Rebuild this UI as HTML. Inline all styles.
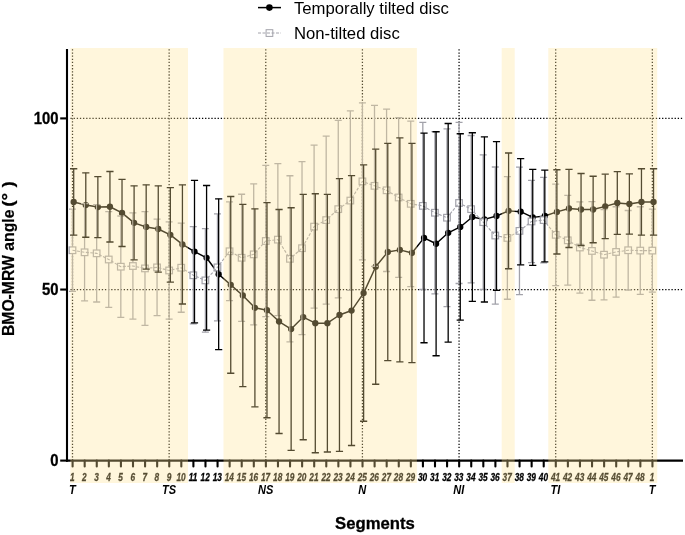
<!DOCTYPE html>
<html><head><meta charset="utf-8"><title>BMO-MRW angle chart</title>
<style>html,body{margin:0;padding:0;background:#fff}body{width:685px;height:535px;position:relative;overflow:hidden;font-family:"Liberation Sans",sans-serif}</style></head>
<body>
<svg width="685" height="535" viewBox="0 0 685 535" style="position:absolute;left:0;top:0;will-change:transform;font-family:'Liberation Sans',sans-serif">
<rect width="685" height="535" fill="#fff"/>
<g stroke="#000" stroke-width="1.3" stroke-dasharray="1.3 1.83" fill="none">
<line x1="70.5" y1="289.55" x2="683" y2="289.55"/>
<line x1="70.5" y1="118.40" x2="683" y2="118.40"/>
<line x1="72.50" y1="49.3" x2="72.50" y2="460.60" stroke-width="1.25"/>
<line x1="169.14" y1="49.3" x2="169.14" y2="460.60" stroke-width="1.25"/>
<line x1="265.78" y1="49.3" x2="265.78" y2="460.60" stroke-width="1.25"/>
<line x1="362.42" y1="49.3" x2="362.42" y2="460.60" stroke-width="1.25"/>
<line x1="459.06" y1="49.3" x2="459.06" y2="460.60" stroke-width="1.25"/>
<line x1="555.70" y1="49.3" x2="555.70" y2="460.60" stroke-width="1.25"/>
<line x1="652.34" y1="49.3" x2="652.34" y2="460.60" stroke-width="1.25"/>
</g>
<polyline points="73.70,201.94 85.78,205.03 97.86,207.08 109.94,206.74 122.02,212.91 134.10,222.84 146.18,226.95 158.26,229.01 170.34,234.83 182.42,244.43 194.50,251.62 206.58,257.79 218.66,274.23 230.74,284.85 242.82,295.47 254.90,307.81 266.98,310.21 279.06,321.51 291.14,329.05 303.22,317.06 315.30,323.22 327.38,323.22 339.46,315.00 351.54,310.55 363.62,293.08 375.70,266.70 387.78,251.96 399.86,249.91 411.94,252.99 424.02,237.92 436.10,243.74 448.18,232.78 460.26,226.95 472.34,217.02 484.42,219.42 496.50,215.99 508.58,210.85 520.66,211.71 532.74,217.36 544.82,215.99 556.90,211.88 568.98,208.45 581.06,209.48 593.14,209.48 605.22,206.40 617.30,202.97 629.38,204.00 641.46,201.94 653.54,201.94" stroke="#000" stroke-width="1.45" fill="none" stroke-linejoin="round"/>
<g fill="#000">
<circle cx="73.70" cy="201.94" r="3.15"/>
<circle cx="85.78" cy="205.03" r="3.15"/>
<circle cx="97.86" cy="207.08" r="3.15"/>
<circle cx="109.94" cy="206.74" r="3.15"/>
<circle cx="122.02" cy="212.91" r="3.15"/>
<circle cx="134.10" cy="222.84" r="3.15"/>
<circle cx="146.18" cy="226.95" r="3.15"/>
<circle cx="158.26" cy="229.01" r="3.15"/>
<circle cx="170.34" cy="234.83" r="3.15"/>
<circle cx="182.42" cy="244.43" r="3.15"/>
<circle cx="194.50" cy="251.62" r="3.15"/>
<circle cx="206.58" cy="257.79" r="3.15"/>
<circle cx="218.66" cy="274.23" r="3.15"/>
<circle cx="230.74" cy="284.85" r="3.15"/>
<circle cx="242.82" cy="295.47" r="3.15"/>
<circle cx="254.90" cy="307.81" r="3.15"/>
<circle cx="266.98" cy="310.21" r="3.15"/>
<circle cx="279.06" cy="321.51" r="3.15"/>
<circle cx="291.14" cy="329.05" r="3.15"/>
<circle cx="303.22" cy="317.06" r="3.15"/>
<circle cx="315.30" cy="323.22" r="3.15"/>
<circle cx="327.38" cy="323.22" r="3.15"/>
<circle cx="339.46" cy="315.00" r="3.15"/>
<circle cx="351.54" cy="310.55" r="3.15"/>
<circle cx="363.62" cy="293.08" r="3.15"/>
<circle cx="375.70" cy="266.70" r="3.15"/>
<circle cx="387.78" cy="251.96" r="3.15"/>
<circle cx="399.86" cy="249.91" r="3.15"/>
<circle cx="411.94" cy="252.99" r="3.15"/>
<circle cx="424.02" cy="237.92" r="3.15"/>
<circle cx="436.10" cy="243.74" r="3.15"/>
<circle cx="448.18" cy="232.78" r="3.15"/>
<circle cx="460.26" cy="226.95" r="3.15"/>
<circle cx="472.34" cy="217.02" r="3.15"/>
<circle cx="484.42" cy="219.42" r="3.15"/>
<circle cx="496.50" cy="215.99" r="3.15"/>
<circle cx="508.58" cy="210.85" r="3.15"/>
<circle cx="520.66" cy="211.71" r="3.15"/>
<circle cx="532.74" cy="217.36" r="3.15"/>
<circle cx="544.82" cy="215.99" r="3.15"/>
<circle cx="556.90" cy="211.88" r="3.15"/>
<circle cx="568.98" cy="208.45" r="3.15"/>
<circle cx="581.06" cy="209.48" r="3.15"/>
<circle cx="593.14" cy="209.48" r="3.15"/>
<circle cx="605.22" cy="206.40" r="3.15"/>
<circle cx="617.30" cy="202.97" r="3.15"/>
<circle cx="629.38" cy="204.00" r="3.15"/>
<circle cx="641.46" cy="201.94" r="3.15"/>
<circle cx="653.54" cy="201.94" r="3.15"/>
</g>
<g stroke="#a2a2aa" stroke-width="1.3" fill="none">
<path d="M72.50 209.14V291.36M69.00 209.14h7.0M69.00 291.36h7.0"/>
<path d="M84.58 203.66V300.96M81.08 203.66h7.0M81.08 300.96h7.0"/>
<path d="M96.66 204.69V301.98M93.16 204.69h7.0M93.16 301.98h7.0"/>
<path d="M108.74 211.54V307.47M105.24 211.54h7.0M105.24 307.47h7.0"/>
<path d="M120.82 215.99V317.40M117.32 215.99h7.0M117.32 317.40h7.0"/>
<path d="M132.90 212.91V319.11M129.40 212.91h7.0M129.40 319.11h7.0"/>
<path d="M144.98 211.54V325.28M141.48 211.54h7.0M141.48 325.28h7.0"/>
<path d="M157.06 219.07V315.69M153.56 219.07h7.0M153.56 315.69h7.0"/>
<path d="M169.14 221.82V319.11M165.64 221.82h7.0M165.64 319.11h7.0"/>
<path d="M181.22 223.19V312.26M177.72 223.19h7.0M177.72 312.26h7.0"/>
<path d="M193.30 226.61V323.91M189.80 226.61h7.0M189.80 323.91h7.0"/>
<path d="M205.38 228.67V332.13M201.88 228.67h7.0M201.88 332.13h7.0"/>
<path d="M217.46 213.94V320.83M213.96 213.94h7.0M213.96 320.83h7.0"/>
<path d="M229.54 201.94V300.61M226.04 201.94h7.0M226.04 300.61h7.0"/>
<path d="M241.62 194.24V321.34M238.12 194.24h7.0M238.12 321.34h7.0"/>
<path d="M253.70 183.79V324.94M250.20 183.79h7.0M250.20 324.94h7.0"/>
<path d="M265.78 165.46V316.54M262.28 165.46h7.0M262.28 316.54h7.0"/>
<path d="M277.86 163.57V315.69M274.36 163.57h7.0M274.36 315.69h7.0"/>
<path d="M289.94 175.74V341.90M286.44 175.74h7.0M286.44 341.90h7.0"/>
<path d="M302.02 161.69V334.70M298.52 161.69h7.0M298.52 334.70h7.0"/>
<path d="M314.10 145.07V308.15M310.60 145.07h7.0M310.60 308.15h7.0"/>
<path d="M326.18 136.17V304.04M322.68 136.17h7.0M322.68 304.04h7.0"/>
<path d="M338.26 120.41V297.87M334.76 120.41h7.0M334.76 297.87h7.0"/>
<path d="M350.34 110.81V290.34M346.84 110.81h7.0M346.84 290.34h7.0"/>
<path d="M362.42 102.93V259.84M358.92 102.93h7.0M358.92 259.84h7.0"/>
<path d="M374.50 105.33V266.35M371.00 105.33h7.0M371.00 266.35h7.0"/>
<path d="M386.58 109.10V271.49M383.08 109.10h7.0M383.08 271.49h7.0"/>
<path d="M398.66 117.66V277.32M395.16 117.66h7.0M395.16 277.32h7.0"/>
<path d="M410.74 121.09V286.57M407.24 121.09h7.0M407.24 286.57h7.0"/>
<path d="M422.82 122.29V289.48M419.32 122.29h7.0M419.32 289.48h7.0"/>
<path d="M434.90 131.54V293.93M431.40 131.54h7.0M431.40 293.93h7.0"/>
<path d="M446.98 128.80V306.61M443.48 128.80h7.0M443.48 306.61h7.0"/>
<path d="M459.06 122.46V283.48M455.56 122.46h7.0M455.56 283.48h7.0"/>
<path d="M471.14 135.48V282.80M467.64 135.48h7.0M467.64 282.80h7.0"/>
<path d="M483.22 154.84V289.48M479.72 154.84h7.0M479.72 289.48h7.0"/>
<path d="M495.30 167.00V304.04M491.80 167.00h7.0M491.80 304.04h7.0"/>
<path d="M507.38 176.59V299.24M503.88 176.59h7.0M503.88 299.24h7.0"/>
<path d="M519.46 167.17V294.62M515.96 167.17h7.0M515.96 294.62h7.0"/>
<path d="M531.54 180.36V262.58M528.04 180.36h7.0M528.04 262.58h7.0"/>
<path d="M543.62 177.28V262.93M540.12 177.28h7.0M540.12 262.93h7.0"/>
<path d="M555.70 184.13V285.54M552.20 184.13h7.0M552.20 285.54h7.0"/>
<path d="M567.78 195.44V285.20M564.28 195.44h7.0M564.28 285.20h7.0"/>
<path d="M579.86 201.94V293.08M576.36 201.94h7.0M576.36 293.08h7.0"/>
<path d="M591.94 201.60V300.27M588.44 201.60h7.0M588.44 300.27h7.0"/>
<path d="M604.02 209.48V299.93M600.52 209.48h7.0M600.52 299.93h7.0"/>
<path d="M616.10 206.74V297.19M612.60 206.74h7.0M612.60 297.19h7.0"/>
<path d="M628.18 210.51V289.99M624.68 210.51h7.0M624.68 289.99h7.0"/>
<path d="M640.26 206.74V294.45M636.76 206.74h7.0M636.76 294.45h7.0"/>
<path d="M652.34 209.14V292.05M648.84 209.14h7.0M648.84 292.05h7.0"/>
</g>
<g stroke="#a2a2aa" stroke-width="1.2" fill="#fff">
<rect x="69.20" y="246.95" width="6.6" height="6.6"/>
<rect x="81.28" y="249.01" width="6.6" height="6.6"/>
<rect x="93.36" y="250.03" width="6.6" height="6.6"/>
<rect x="105.44" y="256.20" width="6.6" height="6.6"/>
<rect x="117.52" y="263.40" width="6.6" height="6.6"/>
<rect x="129.60" y="262.71" width="6.6" height="6.6"/>
<rect x="141.68" y="265.11" width="6.6" height="6.6"/>
<rect x="153.76" y="264.08" width="6.6" height="6.6"/>
<rect x="165.84" y="267.16" width="6.6" height="6.6"/>
<rect x="177.92" y="264.42" width="6.6" height="6.6"/>
<rect x="190.00" y="271.96" width="6.6" height="6.6"/>
<rect x="202.08" y="277.10" width="6.6" height="6.6"/>
<rect x="214.16" y="264.08" width="6.6" height="6.6"/>
<rect x="226.24" y="247.98" width="6.6" height="6.6"/>
<rect x="238.32" y="254.49" width="6.6" height="6.6"/>
<rect x="250.40" y="251.06" width="6.6" height="6.6"/>
<rect x="262.48" y="237.70" width="6.6" height="6.6"/>
<rect x="274.56" y="236.33" width="6.6" height="6.6"/>
<rect x="286.64" y="255.52" width="6.6" height="6.6"/>
<rect x="298.72" y="244.90" width="6.6" height="6.6"/>
<rect x="310.80" y="223.31" width="6.6" height="6.6"/>
<rect x="322.88" y="216.80" width="6.6" height="6.6"/>
<rect x="334.96" y="205.84" width="6.6" height="6.6"/>
<rect x="347.04" y="197.27" width="6.6" height="6.6"/>
<rect x="359.12" y="178.09" width="6.6" height="6.6"/>
<rect x="371.20" y="182.54" width="6.6" height="6.6"/>
<rect x="383.28" y="187.00" width="6.6" height="6.6"/>
<rect x="395.36" y="194.19" width="6.6" height="6.6"/>
<rect x="407.44" y="200.53" width="6.6" height="6.6"/>
<rect x="419.52" y="202.58" width="6.6" height="6.6"/>
<rect x="431.60" y="209.44" width="6.6" height="6.6"/>
<rect x="443.68" y="214.40" width="6.6" height="6.6"/>
<rect x="455.76" y="199.67" width="6.6" height="6.6"/>
<rect x="467.84" y="205.84" width="6.6" height="6.6"/>
<rect x="479.92" y="218.86" width="6.6" height="6.6"/>
<rect x="492.00" y="232.22" width="6.6" height="6.6"/>
<rect x="504.08" y="234.62" width="6.6" height="6.6"/>
<rect x="516.16" y="227.59" width="6.6" height="6.6"/>
<rect x="528.24" y="218.17" width="6.6" height="6.6"/>
<rect x="540.32" y="216.80" width="6.6" height="6.6"/>
<rect x="552.40" y="231.53" width="6.6" height="6.6"/>
<rect x="564.48" y="237.02" width="6.6" height="6.6"/>
<rect x="576.56" y="244.21" width="6.6" height="6.6"/>
<rect x="588.64" y="247.64" width="6.6" height="6.6"/>
<rect x="600.72" y="251.40" width="6.6" height="6.6"/>
<rect x="612.80" y="248.66" width="6.6" height="6.6"/>
<rect x="624.88" y="246.95" width="6.6" height="6.6"/>
<rect x="636.96" y="247.29" width="6.6" height="6.6"/>
<rect x="649.04" y="247.29" width="6.6" height="6.6"/>
</g>
<polyline points="72.50,250.25 84.58,252.31 96.66,253.33 108.74,259.50 120.82,266.70 132.90,266.01 144.98,268.41 157.06,267.38 169.14,270.46 181.22,267.72 193.30,275.26 205.38,280.40 217.46,267.38 229.54,251.28 241.62,257.79 253.70,254.36 265.78,241.00 277.86,239.63 289.94,258.82 302.02,248.20 314.10,226.61 326.18,220.10 338.26,209.14 350.34,200.57 362.42,181.39 374.50,185.84 386.58,190.30 398.66,197.49 410.74,203.83 422.82,205.88 434.90,212.74 446.98,217.70 459.06,202.97 471.14,209.14 483.22,222.16 495.30,235.52 507.38,237.92 519.46,230.89 531.54,221.47 543.62,220.10 555.70,234.83 567.78,240.32 579.86,247.51 591.94,250.94 604.02,254.70 616.10,251.96 628.18,250.25 640.26,250.59 652.34,250.59" stroke="#a2a2aa" stroke-width="1.1" stroke-dasharray="3 1.5" fill="none"/>
<g stroke="#000" fill="none">
<path stroke-width="1.3" d="M73.70 168.71V235.18"/><path stroke-width="1.35" d="M70.10 168.71h7.2M70.10 235.18h7.2"/>
<path stroke-width="1.3" d="M85.78 172.82V237.23"/><path stroke-width="1.35" d="M82.18 172.82h7.2M82.18 237.23h7.2"/>
<path stroke-width="1.3" d="M97.86 176.59V237.57"/><path stroke-width="1.35" d="M94.26 176.59h7.2M94.26 237.57h7.2"/>
<path stroke-width="1.3" d="M109.94 171.45V242.03"/><path stroke-width="1.35" d="M106.34 171.45h7.2M106.34 242.03h7.2"/>
<path stroke-width="1.3" d="M122.02 179.33V246.48"/><path stroke-width="1.35" d="M118.42 179.33h7.2M118.42 246.48h7.2"/>
<path stroke-width="1.3" d="M134.10 185.84V259.84"/><path stroke-width="1.35" d="M130.50 185.84h7.2M130.50 259.84h7.2"/>
<path stroke-width="1.3" d="M146.18 184.81V269.09"/><path stroke-width="1.35" d="M142.58 184.81h7.2M142.58 269.09h7.2"/>
<path stroke-width="1.3" d="M158.26 185.84V272.18"/><path stroke-width="1.35" d="M154.66 185.84h7.2M154.66 272.18h7.2"/>
<path stroke-width="1.3" d="M170.34 187.56V282.11"/><path stroke-width="1.35" d="M166.74 187.56h7.2M166.74 282.11h7.2"/>
<path stroke-width="1.3" d="M182.42 184.81V304.04"/><path stroke-width="1.35" d="M178.82 184.81h7.2M178.82 304.04h7.2"/>
<path stroke-width="1.3" d="M194.50 180.36V322.88"/><path stroke-width="1.35" d="M190.90 180.36h7.2M190.90 322.88h7.2"/>
<path stroke-width="1.3" d="M206.58 185.50V330.08"/><path stroke-width="1.35" d="M202.98 185.50h7.2M202.98 330.08h7.2"/>
<path stroke-width="1.3" d="M218.66 198.86V349.61"/><path stroke-width="1.35" d="M215.06 198.86h7.2M215.06 349.61h7.2"/>
<path stroke-width="1.3" d="M230.74 196.46V373.24"/><path stroke-width="1.35" d="M227.14 196.46h7.2M227.14 373.24h7.2"/>
<path stroke-width="1.3" d="M242.82 204.34V386.61"/><path stroke-width="1.35" d="M239.22 204.34h7.2M239.22 386.61h7.2"/>
<path stroke-width="1.3" d="M254.90 208.80V406.82"/><path stroke-width="1.35" d="M251.30 208.80h7.2M251.30 406.82h7.2"/>
<path stroke-width="1.3" d="M266.98 202.63V417.78"/><path stroke-width="1.35" d="M263.38 202.63h7.2M263.38 417.78h7.2"/>
<path stroke-width="1.3" d="M279.06 209.48V433.54"/><path stroke-width="1.35" d="M275.46 209.48h7.2M275.46 433.54h7.2"/>
<path stroke-width="1.3" d="M291.14 207.77V450.33"/><path stroke-width="1.35" d="M287.54 207.77h7.2M287.54 450.33h7.2"/>
<path stroke-width="1.3" d="M303.22 194.41V439.71"/><path stroke-width="1.35" d="M299.62 194.41h7.2M299.62 439.71h7.2"/>
<path stroke-width="1.3" d="M315.30 193.72V452.73"/><path stroke-width="1.35" d="M311.70 193.72h7.2M311.70 452.73h7.2"/>
<path stroke-width="1.3" d="M327.38 194.41V452.04"/><path stroke-width="1.35" d="M323.78 194.41h7.2M323.78 452.04h7.2"/>
<path stroke-width="1.3" d="M339.46 178.65V451.36"/><path stroke-width="1.35" d="M335.86 178.65h7.2M335.86 451.36h7.2"/>
<path stroke-width="1.3" d="M351.54 175.56V445.53"/><path stroke-width="1.35" d="M347.94 175.56h7.2M347.94 445.53h7.2"/>
<path stroke-width="1.3" d="M363.62 164.94V421.21"/><path stroke-width="1.35" d="M360.02 164.94h7.2M360.02 421.21h7.2"/>
<path stroke-width="1.3" d="M375.70 149.18V384.21"/><path stroke-width="1.35" d="M372.10 149.18h7.2M372.10 384.21h7.2"/>
<path stroke-width="1.3" d="M387.78 143.36V360.57"/><path stroke-width="1.35" d="M384.18 143.36h7.2M384.18 360.57h7.2"/>
<path stroke-width="1.3" d="M399.86 137.88V361.94"/><path stroke-width="1.35" d="M396.26 137.88h7.2M396.26 361.94h7.2"/>
<path stroke-width="1.3" d="M411.94 143.36V362.62"/><path stroke-width="1.35" d="M408.34 143.36h7.2M408.34 362.62h7.2"/>
<path stroke-width="1.3" d="M424.02 133.08V342.75"/><path stroke-width="1.35" d="M420.42 133.08h7.2M420.42 342.75h7.2"/>
<path stroke-width="1.3" d="M436.10 131.71V355.77"/><path stroke-width="1.35" d="M432.50 131.71h7.2M432.50 355.77h7.2"/>
<path stroke-width="1.3" d="M448.18 123.49V342.07"/><path stroke-width="1.35" d="M444.58 123.49h7.2M444.58 342.07h7.2"/>
<path stroke-width="1.3" d="M460.26 133.77V320.14"/><path stroke-width="1.35" d="M456.66 133.77h7.2M456.66 320.14h7.2"/>
<path stroke-width="1.3" d="M472.34 132.74V301.30"/><path stroke-width="1.35" d="M468.74 132.74h7.2M468.74 301.30h7.2"/>
<path stroke-width="1.3" d="M484.42 136.85V301.98"/><path stroke-width="1.35" d="M480.82 136.85h7.2M480.82 301.98h7.2"/>
<path stroke-width="1.3" d="M496.50 141.65V290.34"/><path stroke-width="1.35" d="M492.90 141.65h7.2M492.90 290.34h7.2"/>
<path stroke-width="1.3" d="M508.58 152.95V268.75"/><path stroke-width="1.35" d="M504.98 152.95h7.2M504.98 268.75h7.2"/>
<path stroke-width="1.3" d="M520.66 158.61V264.81"/><path stroke-width="1.35" d="M517.06 158.61h7.2M517.06 264.81h7.2"/>
<path stroke-width="1.3" d="M532.74 169.40V265.33"/><path stroke-width="1.35" d="M529.14 169.40h7.2M529.14 265.33h7.2"/>
<path stroke-width="1.3" d="M544.82 170.08V261.90"/><path stroke-width="1.35" d="M541.22 170.08h7.2M541.22 261.90h7.2"/>
<path stroke-width="1.3" d="M556.90 169.74V254.02"/><path stroke-width="1.35" d="M553.30 169.74h7.2M553.30 254.02h7.2"/>
<path stroke-width="1.3" d="M568.98 169.40V247.51"/><path stroke-width="1.35" d="M565.38 169.40h7.2M565.38 247.51h7.2"/>
<path stroke-width="1.3" d="M581.06 173.51V245.45"/><path stroke-width="1.35" d="M577.46 173.51h7.2M577.46 245.45h7.2"/>
<path stroke-width="1.3" d="M593.14 176.25V242.71"/><path stroke-width="1.35" d="M589.54 176.25h7.2M589.54 242.71h7.2"/>
<path stroke-width="1.3" d="M605.22 174.19V238.60"/><path stroke-width="1.35" d="M601.62 174.19h7.2M601.62 238.60h7.2"/>
<path stroke-width="1.3" d="M617.30 171.62V234.32"/><path stroke-width="1.35" d="M613.70 171.62h7.2M613.70 234.32h7.2"/>
<path stroke-width="1.3" d="M629.38 173.85V234.15"/><path stroke-width="1.35" d="M625.78 173.85h7.2M625.78 234.15h7.2"/>
<path stroke-width="1.3" d="M641.46 168.71V235.18"/><path stroke-width="1.35" d="M637.86 168.71h7.2M637.86 235.18h7.2"/>
<path stroke-width="1.3" d="M653.54 168.71V235.18"/><path stroke-width="1.35" d="M649.94 168.71h7.2M649.94 235.18h7.2"/>
</g>
<g stroke="#000" stroke-width="2.1" fill="none">
<line x1="67" y1="49" x2="67" y2="461.65"/>
<line x1="66" y1="460.60" x2="683" y2="460.60"/>
<line x1="60.2" y1="460.60" x2="67" y2="460.60"/>
<line x1="60.2" y1="289.55" x2="67" y2="289.55"/>
<line x1="60.2" y1="118.40" x2="67" y2="118.40"/>
</g>
<g stroke="#000" stroke-width="2.1" stroke-linecap="round" fill="none">
<line x1="72.60" y1="460.60" x2="72.60" y2="466.5"/>
<line x1="84.68" y1="460.60" x2="84.68" y2="466.5"/>
<line x1="96.76" y1="460.60" x2="96.76" y2="466.5"/>
<line x1="108.84" y1="460.60" x2="108.84" y2="466.5"/>
<line x1="120.92" y1="460.60" x2="120.92" y2="466.5"/>
<line x1="133.00" y1="460.60" x2="133.00" y2="466.5"/>
<line x1="145.08" y1="460.60" x2="145.08" y2="466.5"/>
<line x1="157.16" y1="460.60" x2="157.16" y2="466.5"/>
<line x1="169.24" y1="460.60" x2="169.24" y2="466.5"/>
<line x1="181.32" y1="460.60" x2="181.32" y2="466.5"/>
<line x1="193.40" y1="460.60" x2="193.40" y2="466.5"/>
<line x1="205.48" y1="460.60" x2="205.48" y2="466.5"/>
<line x1="217.56" y1="460.60" x2="217.56" y2="466.5"/>
<line x1="229.64" y1="460.60" x2="229.64" y2="466.5"/>
<line x1="241.72" y1="460.60" x2="241.72" y2="466.5"/>
<line x1="253.80" y1="460.60" x2="253.80" y2="466.5"/>
<line x1="265.88" y1="460.60" x2="265.88" y2="466.5"/>
<line x1="277.96" y1="460.60" x2="277.96" y2="466.5"/>
<line x1="290.04" y1="460.60" x2="290.04" y2="466.5"/>
<line x1="302.12" y1="460.60" x2="302.12" y2="466.5"/>
<line x1="314.20" y1="460.60" x2="314.20" y2="466.5"/>
<line x1="326.28" y1="460.60" x2="326.28" y2="466.5"/>
<line x1="338.36" y1="460.60" x2="338.36" y2="466.5"/>
<line x1="350.44" y1="460.60" x2="350.44" y2="466.5"/>
<line x1="362.52" y1="460.60" x2="362.52" y2="466.5"/>
<line x1="374.60" y1="460.60" x2="374.60" y2="466.5"/>
<line x1="386.68" y1="460.60" x2="386.68" y2="466.5"/>
<line x1="398.76" y1="460.60" x2="398.76" y2="466.5"/>
<line x1="410.84" y1="460.60" x2="410.84" y2="466.5"/>
<line x1="422.92" y1="460.60" x2="422.92" y2="466.5"/>
<line x1="435.00" y1="460.60" x2="435.00" y2="466.5"/>
<line x1="447.08" y1="460.60" x2="447.08" y2="466.5"/>
<line x1="459.16" y1="460.60" x2="459.16" y2="466.5"/>
<line x1="471.24" y1="460.60" x2="471.24" y2="466.5"/>
<line x1="483.32" y1="460.60" x2="483.32" y2="466.5"/>
<line x1="495.40" y1="460.60" x2="495.40" y2="466.5"/>
<line x1="507.48" y1="460.60" x2="507.48" y2="466.5"/>
<line x1="519.56" y1="460.60" x2="519.56" y2="466.5"/>
<line x1="531.64" y1="460.60" x2="531.64" y2="466.5"/>
<line x1="543.72" y1="460.60" x2="543.72" y2="466.5"/>
<line x1="555.80" y1="460.60" x2="555.80" y2="466.5"/>
<line x1="567.88" y1="460.60" x2="567.88" y2="466.5"/>
<line x1="579.96" y1="460.60" x2="579.96" y2="466.5"/>
<line x1="592.04" y1="460.60" x2="592.04" y2="466.5"/>
<line x1="604.12" y1="460.60" x2="604.12" y2="466.5"/>
<line x1="616.20" y1="460.60" x2="616.20" y2="466.5"/>
<line x1="628.28" y1="460.60" x2="628.28" y2="466.5"/>
<line x1="640.36" y1="460.60" x2="640.36" y2="466.5"/>
<line x1="652.44" y1="460.60" x2="652.44" y2="466.5"/>
</g>
<g font-size="16" font-weight="bold" text-anchor="end" fill="#000" stroke="#000" stroke-width="0.3">
<text transform="translate(58.6 466.30) scale(0.93 1)">0</text>
<text transform="translate(58.6 295.25) scale(0.93 1)">50</text>
<text transform="translate(58.6 124.10) scale(0.93 1)">100</text>
</g>
<g font-size="10.6" font-weight="bold" font-style="italic" text-anchor="middle" fill="#000" stroke="#000" stroke-width="0.3">
<text transform="translate(72.30 481.0) scale(0.78 1)">1</text>
<text transform="translate(84.38 481.0) scale(0.78 1)">2</text>
<text transform="translate(96.46 481.0) scale(0.78 1)">3</text>
<text transform="translate(108.54 481.0) scale(0.78 1)">4</text>
<text transform="translate(120.62 481.0) scale(0.78 1)">5</text>
<text transform="translate(132.70 481.0) scale(0.78 1)">6</text>
<text transform="translate(144.78 481.0) scale(0.78 1)">7</text>
<text transform="translate(156.86 481.0) scale(0.78 1)">8</text>
<text transform="translate(168.94 481.0) scale(0.78 1)">9</text>
<text transform="translate(181.02 481.0) scale(0.78 1)">10</text>
<text transform="translate(193.10 481.0) scale(0.78 1)">11</text>
<text transform="translate(205.18 481.0) scale(0.78 1)">12</text>
<text transform="translate(217.26 481.0) scale(0.78 1)">13</text>
<text transform="translate(229.34 481.0) scale(0.78 1)">14</text>
<text transform="translate(241.42 481.0) scale(0.78 1)">15</text>
<text transform="translate(253.50 481.0) scale(0.78 1)">16</text>
<text transform="translate(265.58 481.0) scale(0.78 1)">17</text>
<text transform="translate(277.66 481.0) scale(0.78 1)">18</text>
<text transform="translate(289.74 481.0) scale(0.78 1)">19</text>
<text transform="translate(301.82 481.0) scale(0.78 1)">20</text>
<text transform="translate(313.90 481.0) scale(0.78 1)">21</text>
<text transform="translate(325.98 481.0) scale(0.78 1)">22</text>
<text transform="translate(338.06 481.0) scale(0.78 1)">23</text>
<text transform="translate(350.14 481.0) scale(0.78 1)">24</text>
<text transform="translate(362.22 481.0) scale(0.78 1)">25</text>
<text transform="translate(374.30 481.0) scale(0.78 1)">26</text>
<text transform="translate(386.38 481.0) scale(0.78 1)">27</text>
<text transform="translate(398.46 481.0) scale(0.78 1)">28</text>
<text transform="translate(410.54 481.0) scale(0.78 1)">29</text>
<text transform="translate(422.62 481.0) scale(0.78 1)">30</text>
<text transform="translate(434.70 481.0) scale(0.78 1)">31</text>
<text transform="translate(446.78 481.0) scale(0.78 1)">32</text>
<text transform="translate(458.86 481.0) scale(0.78 1)">33</text>
<text transform="translate(470.94 481.0) scale(0.78 1)">34</text>
<text transform="translate(483.02 481.0) scale(0.78 1)">35</text>
<text transform="translate(495.10 481.0) scale(0.78 1)">36</text>
<text transform="translate(507.18 481.0) scale(0.78 1)">37</text>
<text transform="translate(519.26 481.0) scale(0.78 1)">38</text>
<text transform="translate(531.34 481.0) scale(0.78 1)">39</text>
<text transform="translate(543.42 481.0) scale(0.78 1)">40</text>
<text transform="translate(555.50 481.0) scale(0.78 1)">41</text>
<text transform="translate(567.58 481.0) scale(0.78 1)">42</text>
<text transform="translate(579.66 481.0) scale(0.78 1)">43</text>
<text transform="translate(591.74 481.0) scale(0.78 1)">44</text>
<text transform="translate(603.82 481.0) scale(0.78 1)">45</text>
<text transform="translate(615.90 481.0) scale(0.78 1)">46</text>
<text transform="translate(627.98 481.0) scale(0.78 1)">47</text>
<text transform="translate(640.06 481.0) scale(0.78 1)">48</text>
<text transform="translate(652.14 481.0) scale(0.78 1)">1</text>
</g>
<g fill="#ffe396" fill-opacity="0.33">
<rect x="70.3" y="48" width="117.7" height="435.0"/>
<rect x="223.5" y="48" width="193.4" height="435.0"/>
<rect x="501.7" y="48" width="13.0" height="435.0"/>
<rect x="548.3" y="48" width="108.9" height="435.0"/>
</g>
<g font-size="12" font-weight="bold" font-style="italic" text-anchor="middle" fill="#000">
<text transform="translate(72.30 493.9) scale(0.92 1)">T</text>
<text transform="translate(168.94 493.9) scale(0.92 1)">TS</text>
<text transform="translate(265.58 493.9) scale(0.92 1)">NS</text>
<text transform="translate(362.22 493.9) scale(0.92 1)">N</text>
<text transform="translate(458.86 493.9) scale(0.92 1)">NI</text>
<text transform="translate(555.50 493.9) scale(0.92 1)">TI</text>
<text transform="translate(652.14 493.9) scale(0.92 1)">T</text>
</g>
<text x="375" y="528.6" font-size="16.7" font-weight="bold" text-anchor="middle" stroke="#000" stroke-width="0.3">Segments</text>
<g font-size="16" font-weight="bold" fill="#000" stroke="#000" stroke-width="0.2">
<text transform="translate(14.3 336.1) rotate(-90)" textLength="126.5" lengthAdjust="spacingAndGlyphs">BMO-MRW angle</text>
<text transform="translate(14.3 206.7) rotate(-90)" textLength="25.4" lengthAdjust="spacingAndGlyphs">(° )</text>
</g>
<line x1="258" y1="7.6" x2="281" y2="7.6" stroke="#000" stroke-width="1.5"/>
<circle cx="269.4" cy="7.6" r="3.3" fill="#000"/>
<rect x="266.1" y="29.7" width="6.7" height="6.7" fill="#fff" stroke="#a2a2aa" stroke-width="1"/>
<line x1="258" y1="33" x2="281" y2="33" stroke="#a2a2aa" stroke-width="1" stroke-dasharray="3 1.5"/>
<text x="294" y="13.5" font-size="16.7">Temporally tilted disc</text>
<text x="294" y="39.2" font-size="16.7">Non-tilted disc</text>
</svg>
</body></html>
